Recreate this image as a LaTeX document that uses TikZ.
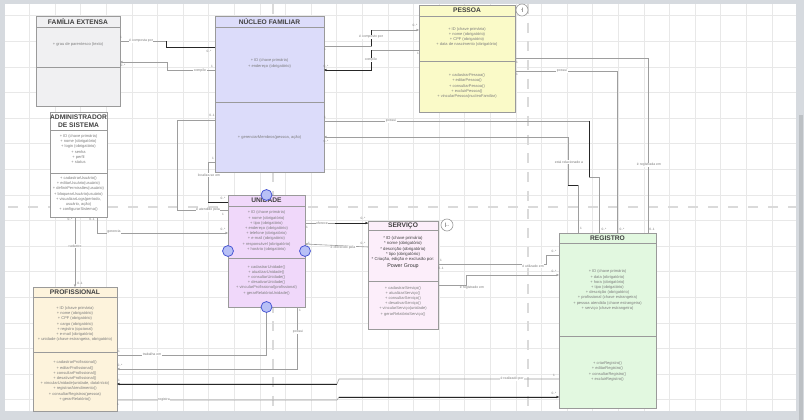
\documentclass[tikz,border=0pt]{standalone}
\usepackage{fontspec}
\setmainfont{Liberation Sans}
\usepackage{xcolor}
\usepackage{tikz}
\usetikzlibrary{arrows.meta,calc}

\definecolor{frame}{HTML}{D6DADF}
\definecolor{gridc}{HTML}{E8E8E8}
\definecolor{swimc}{HTML}{DADADA}
\definecolor{boxc}{HTML}{9A9A9A}
\definecolor{txtc}{HTML}{7C7C7C}
\definecolor{lnc}{HTML}{9E9E9E}
\definecolor{famF}{HTML}{F0F0F2}
\definecolor{nucF}{HTML}{DCDCFA}
\definecolor{pesF}{HTML}{FAFAC8}
\definecolor{uniF}{HTML}{F0D8FA}
\definecolor{serF}{HTML}{FCEEFA}
\definecolor{proF}{HTML}{FDF3DC}
\definecolor{regF}{HTML}{E2F8E0}
\definecolor{portF}{HTML}{B8C0F6}
\definecolor{portD}{HTML}{4A58D4}

\begin{document}
\begin{tikzpicture}[x=0.75pt, y=-0.75pt,
    cls/.style={draw=boxc, line width=0.5pt, anchor=north west, inner sep=0, outer sep=0},
    sep/.style={draw=boxc, line width=0.5pt},
    title/.style={font=\bfseries\fontsize{5}{5.6}\selectfont, text=black!75, inner sep=0, align=center},
    body/.style={font=\fontsize{3}{3.9}\selectfont, text=txtc, align=center, inner sep=0},
    conn/.style={draw=lnc, line width=0.45pt},
    hot/.style={draw=black!85, line width=0.6pt},
    tip/.style={-{Stealth[length=2.2pt,width=1.8pt]}},
    lbl/.style={font=\fontsize{2.6}{3}\selectfont, text=txtc, fill=white, inner sep=0.4pt},
    mult/.style={font=\fontsize{2.4}{3}\selectfont, text=txtc, inner sep=0},
    port/.style={circle, draw=portD, fill=portF, line width=0.6pt, minimum size=8.2pt, inner sep=0},
    icon/.style={circle, draw=boxc, fill=white, line width=0.5pt, minimum size=9pt, inner sep=0, font=\fontsize{3.5}{4}\selectfont}
]
    \useasboundingbox (0,0) rectangle (804,420);

    % canvas and grid
    \fill[frame] (0,0) rectangle (804,420);
    \fill[white] (5,4) rectangle (796,411);
    \fill[frame!88!black] (799,115) rectangle (803,420);
    \foreach \gx in {1,...,30}
        \draw[gridc, line width=0.6pt] ({3.9+25.6*\gx},4) -- ({3.9+25.6*\gx},411);
    \foreach \gy in {1,...,16}
        \draw[gridc, line width=0.6pt] (5,{-9.8+25.6*\gy}) -- (796,{-9.8+25.6*\gy});

    % swimlanes
    \draw[swimc, line width=2.2pt, dash pattern=on 7.5pt off 6.5pt] (273,4) -- (273,411);
    \draw[swimc, line width=2.2pt, dash pattern=on 7.5pt off 6.5pt] (528,4) -- (528,411);
    \draw[swimc, line width=2.2pt, dash pattern=on 7.5pt off 7.5pt] (8,207) -- (796,207);

    % Familia extensa
    \node[cls, fill=famF, minimum width=63pt, minimum height=67.5pt] (fam) at (36,16) {};
    \node[title] (famT) at (78,21.5) {FAMÍLIA EXTENSA};
    \draw[sep] (fam.west |- 0,27) -- (fam.east |- 0,27);
    \draw[sep] (fam.west |- 0,67) -- (fam.east |- 0,67);
    \node[body] (famA) at (78,44) {+ grau de parentesco (texto)};

    % Nucleo familiar
    \node[cls, fill=nucF, minimum width=81.75pt, minimum height=117pt] (nuc) at (215,16) {};
    \node[title] (nucT) at (269.5,21.5) {NÚCLEO FAMILIAR};
    \draw[sep] (nuc.west |- 0,27) -- (nuc.east |- 0,27);
    \draw[sep] (nuc.west |- 0,102) -- (nuc.east |- 0,102);
    \node[body] (nucA) at (269.5,63.5) {+ ID (chave primária)\\+ endereço (obrigatório)};
    \node[body] (nucM) at (269.5,137) {+ gerenciarMembros(pessoa, ação)};

    % Pessoa
    \node[cls, fill=pesF, minimum width=72pt, minimum height=80.25pt] (pes) at (419,5) {};
    \node[title] (pesT) at (467,10.5) {PESSOA};
    \draw[sep] (pes.west |- 0,16) -- (pes.east |- 0,16);
    \draw[sep] (pes.west |- 0,61) -- (pes.east |- 0,61);
    \node[body] (pesA) at (467,37) {+ ID (chave primária)\\+ nome (obrigatório)\\+ CPF (obrigatório)\\+ data de nascimento (obrigatório)};
    \node[body] (pesM) at (467,86) {+ cadastrarPessoa()\\+ editarPessoa()\\+ consultarPessoa()\\+ excluirPessoa()\\+ vincularPessoa(nucleoFamiliar)};
    \node[icon] (pesIcon) at (522,10) {·|};

    % Administrador de sistema
    \node[cls, fill=white, minimum width=42.75pt, minimum height=78.75pt] (adm) at (50,112) {};
    \node[title] (admT) at (78.5,121) {ADMINISTRADOR\\DE SISTEMA};
    \draw[sep] (adm.west |- 0,130) -- (adm.east |- 0,130);
    \draw[sep] (adm.west |- 0,173) -- (adm.east |- 0,173);
    \node[body] (admA) at (78.5,149) {+ ID (chave primária)\\+ nome (obrigatório)\\+ login (obrigatório)\\+ senha\\+ perfil\\+ status};
    \node[body] (admM) at (78.5,194) {+ cadastrarUsuário()\\+ editarUsuário(usuário)\\+ definirPermissões(usuário)\\+ bloquearUsuário(usuário)\\+ visualizarLogs(período,\\usuário, ação)\\+ configurarSistema()};

    % Unidade
    \node[cls, fill=uniF, minimum width=57.75pt, minimum height=84pt] (uni) at (228,195) {};
    \node[title] (uniT) at (266.5,200.5) {UNIDADE};
    \draw[sep] (uni.west |- 0,206) -- (uni.east |- 0,206);
    \draw[sep] (uni.west |- 0,258) -- (uni.east |- 0,258);
    \node[body] (uniA) at (266.5,231) {+ ID (chave primária)\\+ nome (obrigatório)\\+ tipo (obrigatório)\\+ endereço (obrigatório)\\+ telefone (obrigatório)\\+ e-mail (obrigatório)\\+ responsável (obrigatório)\\+ horário (obrigatório)};
    \node[body] (uniM) at (266.5,280) {+ cadastrarUnidade()\\+ atualizarUnidade()\\+ consultarUnidade()\\+ desativarUnidade()\\+ vincularProfissional(profissional)\\+ gerarRelatórioUnidade()};
    \node[port] (uniN) at (266.5,195) {};
    \node[port] (uniW) at (228,251) {};
    \node[port] (uniE) at (305,251) {};
    \node[port] (uniS) at (266.5,307) {};

    % Servico
    \node[cls, fill=serF, minimum width=52.5pt, minimum height=81pt] (ser) at (368,221) {};
    \node[title] (serT) at (403,225.5) {SERVIÇO};
    \draw[sep] (ser.west |- 0,230) -- (ser.east |- 0,230);
    \draw[sep] (ser.west |- 0,281) -- (ser.east |- 0,281);
    \node[body, text=black!75, font=\fontsize{3.2}{4}\selectfont] (serA) at (403,249) {* ID (chave primária)\\* nome (obrigatório)\\* descrição (obrigatório)\\* tipo (obrigatório)\\* Criação, edição e exclusão por:};
    \node[body, text=black!80, font=\fontsize{4}{4.5}\selectfont] (serP) at (403,266) {Power Group};
    \node[body] (serM) at (403,301) {+ cadastrarServiço()\\+ atualizarServiço()\\+ consultarServiço()\\+ desativarServiço()\\+ vincularServiço(unidade)\\+ gerarRelatórioServiço()};
    \node[icon] (serIcon) at (447,225) {|..};

    % Profissional
    \node[cls, fill=proF, minimum width=63pt, minimum height=93pt] (prof) at (33,287) {};
    \node[title] (profT) at (75,292) {PROFISSIONAL};
    \draw[sep] (prof.west |- 0,297) -- (prof.east |- 0,297);
    \draw[sep] (prof.west |- 0,352) -- (prof.east |- 0,352);
    \node[body] (profA) at (75,324) {+ ID (chave primária)\\+ nome (obrigatório)\\+ CPF (obrigatório)\\+ cargo (obrigatório)\\+ registro (opcional)\\+ e-mail (obrigatório)\\+ unidade (chave estrangeira, obrigatório)};
    \node[body] (profM) at (75,381) {+ cadastrarProfissional()\\+ editarProfissional()\\+ consultarProfissional()\\+ desativarProfissional()\\+ vincularUnidade(unidade, dataInício)\\+ registrarAtendimento()\\+ consultarRegistros(pessoa)\\+ gerarRelatório()};

    % Registro
    \node[cls, fill=regF, minimum width=72.75pt, minimum height=131.25pt] (reg) at (559,233) {};
    \node[title] (regT) at (607.5,238) {REGISTRO};
    \draw[sep] (reg.west |- 0,243) -- (reg.east |- 0,243);
    \draw[sep] (reg.west |- 0,336) -- (reg.east |- 0,336);
    \node[body] (regA) at (607.5,290) {+ ID (chave primária)\\+ data (obrigatório)\\+ hora (obrigatório)\\+ tipo (obrigatório)\\+ descrição (obrigatório)\\+ profissional (chave estrangeira)\\+ pessoa atendida (chave estrangeira)\\+ serviço (chave estrangeira)};
    \node[body] (regM) at (607.5,371.5) {+ criarRegistro()\\+ editarRegistro()\\+ consultarRegistro()\\+ excluirRegistro()};

    % Familia -- Nucleo
    \draw[conn] (fam.east |- 0,41) -- (166,41) -- (166,47) -- (nuc.west |- 0,47);
    \draw[hot] (nuc.west |- 0,47) -| (166,41);
    \draw[conn, tip] (nuc.west |- 0,70) -- (167,70) -- (167,62) -- (fam.east |- 0,62);
    \node[lbl] (lFam1) at (141,41) {é composta por};
    \node[lbl] (lFam2) at (200,71) {compõe};

    % Nucleo -- Pessoa
    \draw[conn, tip] (nuc.east |- 0,46) -- (371,46) -- (371,30) -- (pes.west |- 0,30);
    \draw[hot] (371,46) -- (371,30);
    \draw[conn] (pes.west |- 0,50) -- (371,50) -- (371,70) -- (nuc.east |- 0,70);
    \draw[hot, {Stealth[length=2.2pt,width=1.8pt]}-] (nuc.east |- 0,70) -| (371,50);
    \node[lbl] (lPes1) at (371,37) {é composto por};
    \node[lbl] (lPes2) at (371,60) {compõe};

    % Nucleo, Pessoa -- Registro
    \draw[conn] (nuc.east |- 0,121) -- (589,121) -- (589,177) -- (599,177) -- (reg.north -| 599,0);
    \draw[hot] (589,121) -- (589,177);
    \draw[conn, tip] (reg.north -| 578,0) -- (578,185) -- (568,185) -- (568,137) -- (nuc.east |- 0,137);
    \draw[hot] (578,185) -- (568,185);
    \draw[conn] (pes.east |- 0,58) -- (648,58) -- (reg.north -| 648,0);
    \draw[conn] (pes.east |- 0,71) -- (617,71) -- (reg.north -| 617,0);
    \node[lbl] (lReg1) at (391,121) {possui};
    \node[lbl] (lReg2) at (569,162) {está relacionado a};
    \node[lbl] (lReg3) at (649,165) {é registrada em};
    \node[lbl] (lReg4) at (562,71) {possui};

    % Nucleo, Administrador -- Unidade
    \draw[conn] (nuc.west |- 0,120) -- (177,120) -- (177,210) -- (uni.west |- 0,210);
    \draw[conn] (nuc.west |- 0,162) -- (208,162) -- (208,202) -- (uni.west |- 0,202);
    \draw[hot] (uni.west |- 0,202) -- (208,202);
    \draw[conn, tip] (adm.south -| 97,0) -- (97,233) -- (uni.west |- 0,233);
    \draw[conn, tip] (adm.south -| 75,0) -- (prof.north -| 75,0);
    \node[lbl] (lUni1) at (208,210) {é atendido pela};
    \node[lbl] (lUni2) at (209,175) {localiza-se em};
    \node[lbl] (lUni3) at (114,232) {gerencia};
    \node[lbl] (lPro1) at (75,246) {cadastra};

    % Unidade -- Profissional
    \draw[conn] (uniS.south) -- (266.5,355) -- (prof.east |- 0,355);
    \draw[conn, tip] (uni.south -| 297,0) -- (297,369) -- (prof.east |- 0,369);
    \node[lbl] (lPro2) at (152,354) {trabalha em};
    \node[lbl] (lPro3) at (298,332) {possui};

    % Profissional -- Registro
    \draw[conn] (prof.east |- 0,384) -- (337,384) -- (339,379) -- (reg.west |- 0,379);
    \draw[hot, {Stealth[length=2.2pt,width=1.8pt]}-] (prof.east |- 0,384) -- (337,384);
    \draw[conn] (prof.east |- 0,400) -- (337,400) -- (339,397) -- (reg.west |- 0,397);
    \draw[hot, {Stealth[length=2.2pt,width=1.8pt]}-] (reg.west |- 0,397) -- (339,397);
    \node[lbl] (lPro4) at (512,379) {é realizado por};
    \node[lbl] (lPro5) at (164,400) {registra};

    % Unidade, Servico -- Registro
    \draw[conn] (uni.east |- 0,223) -- (ser.west |- 0,223);
    \draw[hot, {Stealth[length=2.2pt,width=1.8pt]}-] (ser.west |- 0,223) -- (335,223);
    \draw[conn, tip] (ser.west |- 0,247) -- (uni.east |- 0,244);
    \draw[conn] (ser.east |- 0,264) -- (546,264) -- (546,255) -- (reg.west |- 0,255);
    \draw[conn, tip] (ser.east |- 0,285) -- (466,285) -- (466,275) -- (reg.west |- 0,275);
    \node[lbl] (lSer1) at (322,223) {oferece};
    \node[lbl] (lSer2) at (343,248) {é oferecido pela};
    \node[lbl] (lSer3) at (533,266) {é utilizado em};
    \node[lbl] (lSer4) at (472,288) {é registrado em};

    % multiplicities
    \foreach \mx/\my/\mt [count=\i] in {121/37/1, 123/65/0..*, 209/51/0..*, 212/66/1,
        325/49/1, 326/66/0..*, 415/25/0..*, 418/53/1, 325/117/1, 326/141/0..*,
        517/62/1, 517/74/1, 212/115/0..1, 213/158/1, 223/198/0..*, 223/214/1,
        223/229/0..*, 70/219/0..*, 92/219/0..1, 80/283/0..1, 307/227/1, 363/218/0..*,
        363/243/0..*, 309/243/1, 441/260/1, 441/268/0..1, 554/251/0..*, 554/271/0..*,
        581/228/1, 604/229/0..*, 622/229/0..*, 652/229/0..1, 300/310/1,
        119/351/1, 120/365/0..*, 119/380/1, 118/404/1, 554/375/1, 554/393/0..*}
        \node[mult] (m\i) at (\mx,\my) {\mt};
\end{tikzpicture}
\end{document}
